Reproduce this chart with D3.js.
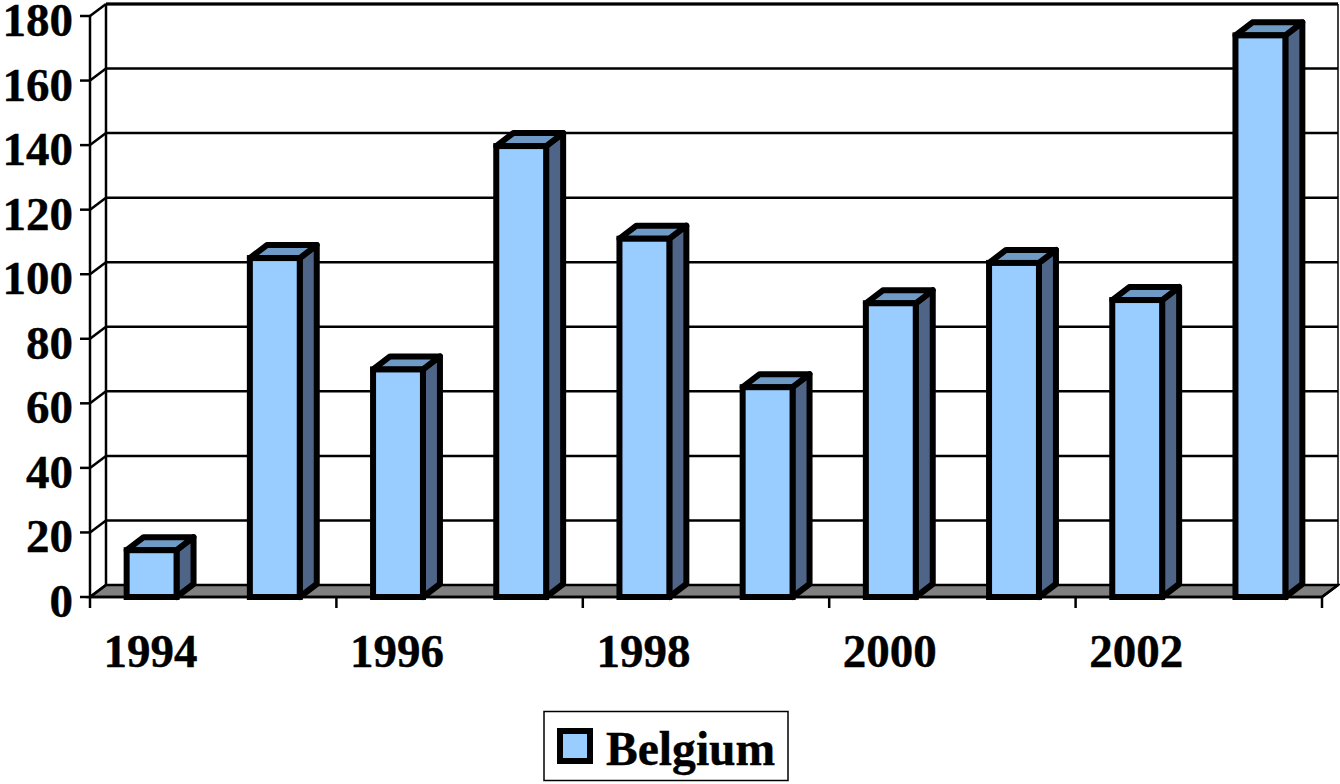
<!DOCTYPE html>
<html><head><meta charset="utf-8">
<script src="https://cdn.jsdelivr.net/npm/d3@7/dist/d3.min.js"></script>
<style>html,body{margin:0;padding:0;background:#fff}svg{display:block}text{font-family:"Liberation Serif",serif;font-weight:bold;fill:#000;stroke:#000;stroke-width:0.4px}</style>
</head><body><svg id="c" width="1340" height="784"></svg>
<script>
const categories=["1994","1995","1996","1997","1998","1999","2000","2001","2002","2003"];
const values=[14.5,105,70.5,139.7,111,65,91,103.5,92,174];
const yTicks=[0,20,40,60,80,100,120,140,160,180];
const xTickLabels=["1994","1996","1998","2000","2002"];
const seriesName="Belgium";
const svg=d3.select("#c");
const dx=16,dy=-12,barDx=17,barDy=-13;
const x=d3.scaleBand().domain(categories).range([90,1322]).paddingInner(0.595).paddingOuter(0.2975);
const y=d3.scaleLinear().domain([0,180]).range([597,16]);
const line=(x1,y1,x2,y2,w=2.5)=>svg.append("line").attr("x1",x1).attr("y1",y1).attr("x2",x2).attr("y2",y2).attr("stroke","#000").attr("stroke-width",w);
const X0=x.range()[0],X1=x.range()[1];
svg.append("polygon").attr("fill","#808080").attr("stroke","#000").attr("stroke-width",2.5)
 .attr("points",[[X0,y(0)],[X0+dx,y(0)+dy],[X1+dx,y(0)+dy],[X1,y(0)]].join(" "));
yTicks.forEach(t=>{
  if(t>0) line(X0+dx,y(t)+dy,X1+dx,y(t)+dy);
  line(X0,y(t),X0+dx,y(t)+dy);
  line(X0-10,y(t),X0,y(t));
});
line(X0,y(180),X0,y(0));
line(X0+dx,y(180)+dy,X0+dx,y(0)+dy);
line(X1+dx,y(180)+dy,X1+dx,y(0)+dy,1.5);
line(X0+dx,y(180)+dy,X1+dx,y(180)+dy,3);
line(X0,y(0),X1,y(0));
line(X1,y(0),X1+dx,y(0)+dy);
const step=x.step();
d3.range(0,categories.length+1,2).forEach(i=>line(X0+i*step,y(0),X0+i*step,y(0)+11));
const sw=6;
const g=svg.append("g").selectAll("g").data(categories.map((c,i)=>({c,v:values[i]}))).join("g");
g.append("polygon").attr("fill","#4f6587").attr("stroke","#000").attr("stroke-width",sw).attr("stroke-linejoin","round")
 .attr("points",d=>{const r=x(d.c)+x.bandwidth();return [[r,y(d.v)],[r+barDx,y(d.v)+barDy],[r+barDx,y(0)+barDy],[r,y(0)]].join(" ")});
g.append("polygon").attr("fill","#709ac6").attr("stroke","#000").attr("stroke-width",sw).attr("stroke-linejoin","round")
 .attr("points",d=>{const l=x(d.c),r=l+x.bandwidth();return [[l,y(d.v)],[l+barDx,y(d.v)+barDy],[r+barDx,y(d.v)+barDy],[r,y(d.v)]].join(" ")});
g.append("rect").attr("fill","#99ccff").attr("stroke","#000").attr("stroke-width",sw)
 .attr("x",d=>x(d.c)).attr("y",d=>y(d.v)).attr("width",x.bandwidth()).attr("height",d=>y(0)-y(d.v));
svg.append("g").selectAll("text").data(yTicks).join("text").attr("x",73).attr("y",d=>y(d)+20).attr("text-anchor","end").attr("font-size",47).text(d=>d);
svg.append("g").selectAll("text").data(xTickLabels).join("text").attr("x",d=>x(d)+x.bandwidth()/2-1).attr("y",667).attr("text-anchor","middle").attr("font-size",47).text(d=>d);
svg.append("rect").attr("x",544).attr("y",711.5).attr("width",244).attr("height",69).attr("fill","#fff").attr("stroke","#000").attr("stroke-width",1.5);
svg.append("rect").attr("x",560).attr("y",731).attr("width",30).attr("height",30).attr("fill","#99ccff").attr("stroke","#000").attr("stroke-width",6);
svg.append("text").attr("x",606).attr("y",765).attr("font-size",47.6).text(seriesName);
</script></body></html>
